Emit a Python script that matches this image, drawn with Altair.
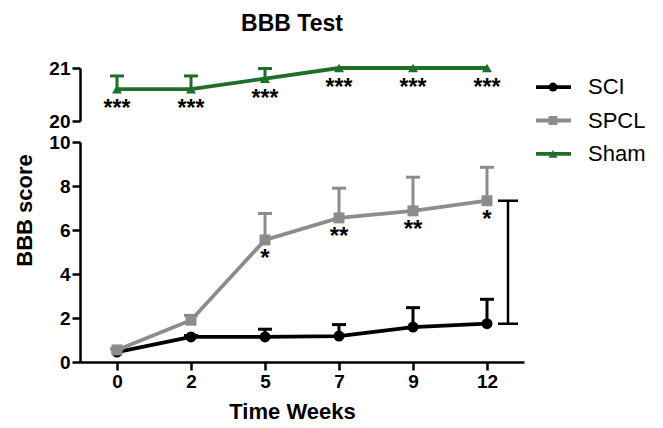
import altair as alt
import pandas as pd

weeks = ["0", "2", "5", "7", "9", "12"]
series_names = ["SCI", "SPCL", "Sham"]
colors = ["#000000", "#8c8c8c", "#1f6e2a"]
shapes = ["circle", "square", "triangle-up"]

sci_mean = [0.45, 1.14, 1.14, 1.18, 1.59, 1.74]
sci_upper = [0.45, 1.2, 1.49, 1.7, 2.47, 2.85]
spcl_mean = [0.55, 1.9, 5.55, 6.55, 6.87, 7.33]
spcl_upper = [0.6, 2.12, 6.75, 7.9, 8.4, 8.85]
sham_mean = [20.6, 20.6, 20.8, 21.0, 21.0, 21.0]
sham_upper = [20.85, 20.85, 20.99, 21.0, 21.0, 21.0]
spcl_stars = ["", "", "*", "**", "**", "*"]
sham_stars = ["***", "***", "***", "***", "***", "***"]

FONT = "Liberation Sans"
GREEN = colors[2]

x_scale = alt.Scale(type="point", padding=0.5)
color_scale = alt.Scale(domain=series_names, range=colors)
shape_scale = alt.Scale(domain=series_names, range=shapes)

# ---------- top panel (Sham) ----------
top_df = pd.DataFrame({"week": weeks, "mean": sham_mean, "upper": sham_upper, "stars": sham_stars})
xt = alt.X("week:O", sort=weeks, scale=x_scale, axis=None)
yt = alt.Y("mean:Q", scale=alt.Scale(domain=[20, 21]),
           axis=alt.Axis(values=[20, 21], title=None, format="d"))
tb = alt.Chart(top_df).encode(x=xt)
top = alt.layer(
    tb.mark_line(color=GREEN, strokeWidth=3.8).encode(y=yt),
    tb.transform_filter("datum.upper > datum.mean + 0.005").mark_rule(color=GREEN, strokeWidth=3).encode(y="mean:Q", y2="upper:Q"),
    tb.transform_filter("datum.upper > datum.mean + 0.005").mark_tick(color=GREEN, orient="horizontal", size=14, thickness=3, opacity=1).encode(y="upper:Q"),
    tb.mark_point(shape="triangle-up", filled=True, size=100, color=GREEN, opacity=1).encode(y="mean:Q"),
    tb.mark_text(font=FONT, fontSize=23, fontWeight="bold", color="black", baseline="alphabetic", dy=27).encode(y="mean:Q", text="stars:N"),
).properties(width=444, height=53,
             title=alt.TitleParams("BBB Test", font=FONT, fontSize=23, fontWeight="bold", color="black", dx=-10, offset=23))

# ---------- bottom panel (SCI, SPCL) ----------
rows = []
for name, m, u, s in [("SCI", sci_mean, sci_upper, [""] * 6), ("SPCL", spcl_mean, spcl_upper, spcl_stars)]:
    for w, mv, uv, st in zip(weeks, m, u, s):
        rows.append({"series": name, "week": w, "mean": mv, "upper": uv, "stars": st})
bot_df = pd.DataFrame(rows)

xb = alt.X("week:O", sort=weeks, scale=x_scale,
           axis=alt.Axis(title="Time Weeks", labelAngle=0, titlePadding=10, titleX=212))
yb = alt.Y("mean:Q", scale=alt.Scale(domain=[0, 10]),
           axis=alt.Axis(values=[0, 2, 4, 6, 8, 10], title="BBB score", titleY=68, titlePadding=12))
cb = alt.Color("series:N", scale=color_scale, legend=None)
sb = alt.Shape("series:N", scale=shape_scale, legend=None)

bb = alt.Chart(bot_df).encode(x=xb, color=cb)
bracket_df = pd.DataFrame({"lo": [sci_mean[-1]], "hi": [spcl_mean[-1]]})
br = alt.Chart(bracket_df)

bottom = alt.layer(
    bb.mark_line(strokeWidth=3.8).encode(y=yb, detail="series:N"),
    bb.transform_filter("datum.upper > datum.mean + 0.01").mark_rule(strokeWidth=3).encode(y="mean:Q", y2="upper:Q"),
    bb.transform_filter("datum.upper > datum.mean + 0.01").mark_tick(orient="horizontal", size=14, thickness=3, opacity=1).encode(y="upper:Q"),
    bb.mark_point(filled=True, size=120, opacity=1).encode(y="mean:Q", shape=sb),
    bb.mark_text(font=FONT, fontSize=24, fontWeight="bold", baseline="alphabetic", dy=26).encode(y="mean:Q", text="stars:N", color=alt.value("black")),
    br.mark_rule(color="black", strokeWidth=2.5).encode(x=alt.value(428), y="lo:Q", y2="hi:Q"),
    br.mark_rule(color="black", strokeWidth=2.5).encode(x=alt.value(418), x2=alt.value(438), y="lo:Q"),
    br.mark_rule(color="black", strokeWidth=2.5).encode(x=alt.value(418), x2=alt.value(438), y="hi:Q"),
).properties(width=444, height=220)

# ---------- legend ----------
leg_df = pd.DataFrame({"series": series_names})
ly = alt.Y("series:N", sort=series_names, scale=alt.Scale(type="point", padding=0.57), axis=None)
lc = alt.Color("series:N", scale=color_scale, legend=None)
ls = alt.Shape("series:N", scale=shape_scale, legend=None)
lb = alt.Chart(leg_df).encode(y=ly)
legend = alt.layer(
    lb.mark_rule(strokeWidth=3.8).encode(x=alt.value(0), x2=alt.value(35), color=lc),
    lb.mark_point(filled=True, size=80, opacity=1).encode(x=alt.value(17), color=lc, shape=ls),
    lb.mark_text(align="left", baseline="middle", font=FONT, fontSize=22, color="black").encode(x=alt.value(52), text="series:N"),
).properties(width=110, height=105)

left = alt.vconcat(top, bottom, spacing=21, bounds="flush")
chart = alt.hconcat(left, legend, spacing=10).configure_view(
    stroke=None
).configure_axis(
    grid=False,
    domainColor="black", domainWidth=2.5,
    tickColor="black", tickWidth=2.5, tickSize=8,
    labelFont=FONT, labelFontSize=19, labelFontWeight="bold", labelColor="black", labelPadding=2,
    titleFont=FONT, titleFontSize=22, titleFontWeight="bold", titleColor="black",
)

chart.save("out.html", embed_options={"renderer": "svg", "actions": False})
